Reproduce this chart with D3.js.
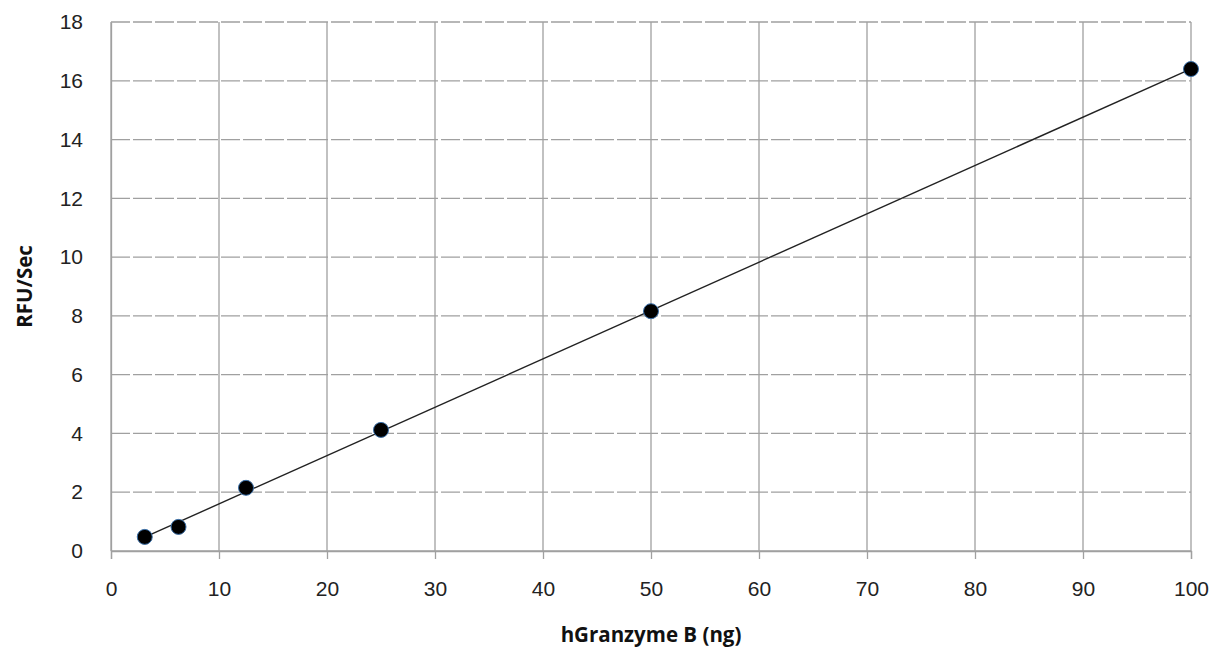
<!DOCTYPE html>
<html>
<head>
<meta charset="utf-8">
<script src="https://cdnjs.cloudflare.com/ajax/libs/d3/7.8.5/d3.min.js"></script>
<style>
  body { margin: 0; background: #fff; }
  svg { display: block; font-family: "Open Sans", "Liberation Sans", sans-serif; }
</style>
</head>
<body>
<div class="container"></div>
<script>
// Data
var X_VALUES = [3.125, 6.25, 12.5, 25, 50, 100];
var Y_VALUES = [0.48, 0.82, 2.15, 4.12, 8.16, 16.4];
var X_TICKS = [0, 10, 20, 30, 40, 50, 60, 70, 80, 90, 100];
var Y_TICKS = [0, 2, 4, 6, 8, 10, 12, 14, 16, 18];

var width = 1214, height = 656;
var margin = {top: 22, right: 23, bottom: 105, left: 111};
var w = width - margin.left - margin.right;
var h = height - margin.top - margin.bottom;

var svg = d3.select(".container").append("svg")
    .attr("width", width)
    .attr("height", height);

var g = svg.append("g")
    .attr("transform", "translate(" + margin.left + "," + margin.top + ")");

var xScale = d3.scaleLinear().domain([0, 100]).range([0, w]);
var yScale = d3.scaleLinear().domain([0, 18]).range([h, 0]);

// horizontal gridlines (dashed)
g.selectAll(".hgrid")
  .data(Y_TICKS)
  .enter().append("line")
  .attr("x1", 0).attr("x2", w)
  .attr("y1", function(d) { return yScale(d); })
  .attr("y2", function(d) { return yScale(d); })
  .attr("stroke", "#a0a0a0")
  .attr("stroke-width", 1.3)
  .attr("stroke-dasharray", function(d) { return d === 0 ? null : "19,3"; });

// vertical gridlines (solid)
g.selectAll(".vgrid")
  .data(X_TICKS)
  .enter().append("line")
  .attr("x1", function(d) { return xScale(d); })
  .attr("x2", function(d) { return xScale(d); })
  .attr("y1", 0).attr("y2", h)
  .attr("stroke", "#a0a0a0")
  .attr("stroke-width", 1.3);

// x axis
var xAxis = g.append("g")
  .attr("transform", "translate(0," + h + ")")
  .call(d3.axisBottom(xScale).tickValues(X_TICKS).tickSize(8).tickPadding(22));
xAxis.select(".domain").attr("stroke", "#a0a0a0").attr("stroke-width", 1.3);
xAxis.selectAll(".tick line").attr("stroke", "#a0a0a0").attr("stroke-width", 1.3);
xAxis.selectAll("text").attr("font-size", 21).attr("fill", "#222");

// y axis
var yAxis = g.append("g")
  .call(d3.axisLeft(yScale).tickValues(Y_TICKS).tickSize(0).tickPadding(28));
yAxis.select(".domain").attr("stroke", "#a0a0a0").attr("stroke-width", 1.3);
yAxis.selectAll("text").attr("font-size", 21).attr("fill", "#222");

// linear trend line (least squares fit of the points)
var n = X_VALUES.length;
var mx = d3.mean(X_VALUES), my = d3.mean(Y_VALUES);
var sxy = 0, sxx = 0;
for (var i = 0; i < n; i++) {
  sxy += (X_VALUES[i] - mx) * (Y_VALUES[i] - my);
  sxx += (X_VALUES[i] - mx) * (X_VALUES[i] - mx);
}
var slope = sxy / sxx, intercept = my - slope * mx;
var xMin = d3.min(X_VALUES), xMax = d3.max(X_VALUES);

g.append("line")
  .attr("x1", xScale(xMin)).attr("y1", yScale(slope * xMin + intercept))
  .attr("x2", xScale(xMax)).attr("y2", yScale(slope * xMax + intercept))
  .attr("stroke", "#222")
  .attr("stroke-width", 1.4);

// points
g.selectAll(".dot")
  .data(X_VALUES)
  .enter().append("circle")
  .attr("cx", function(d) { return xScale(d); })
  .attr("cy", function(d, i) { return yScale(Y_VALUES[i]); })
  .attr("r", 7.5)
  .attr("fill", "#000")
  .attr("stroke", "#3a6fa8")
  .attr("stroke-width", 1);

// axis titles
svg.append("text")
  .attr("transform", "translate(" + (margin.left + w / 2) + "," + 642 + ")")
  .attr("text-anchor", "middle")
  .attr("font-size", 20.5)
  .attr("font-weight", "bold")
  .attr("fill", "#111")
  .text("hGranzyme B (ng)");

svg.append("text")
  .attr("transform", "translate(32," + (margin.top + h / 2) + ") rotate(-90)")
  .attr("text-anchor", "middle")
  .attr("font-size", 20.5)
  .attr("font-weight", "bold")
  .attr("fill", "#111")
  .text("RFU/Sec");
</script>
</body>
</html>
